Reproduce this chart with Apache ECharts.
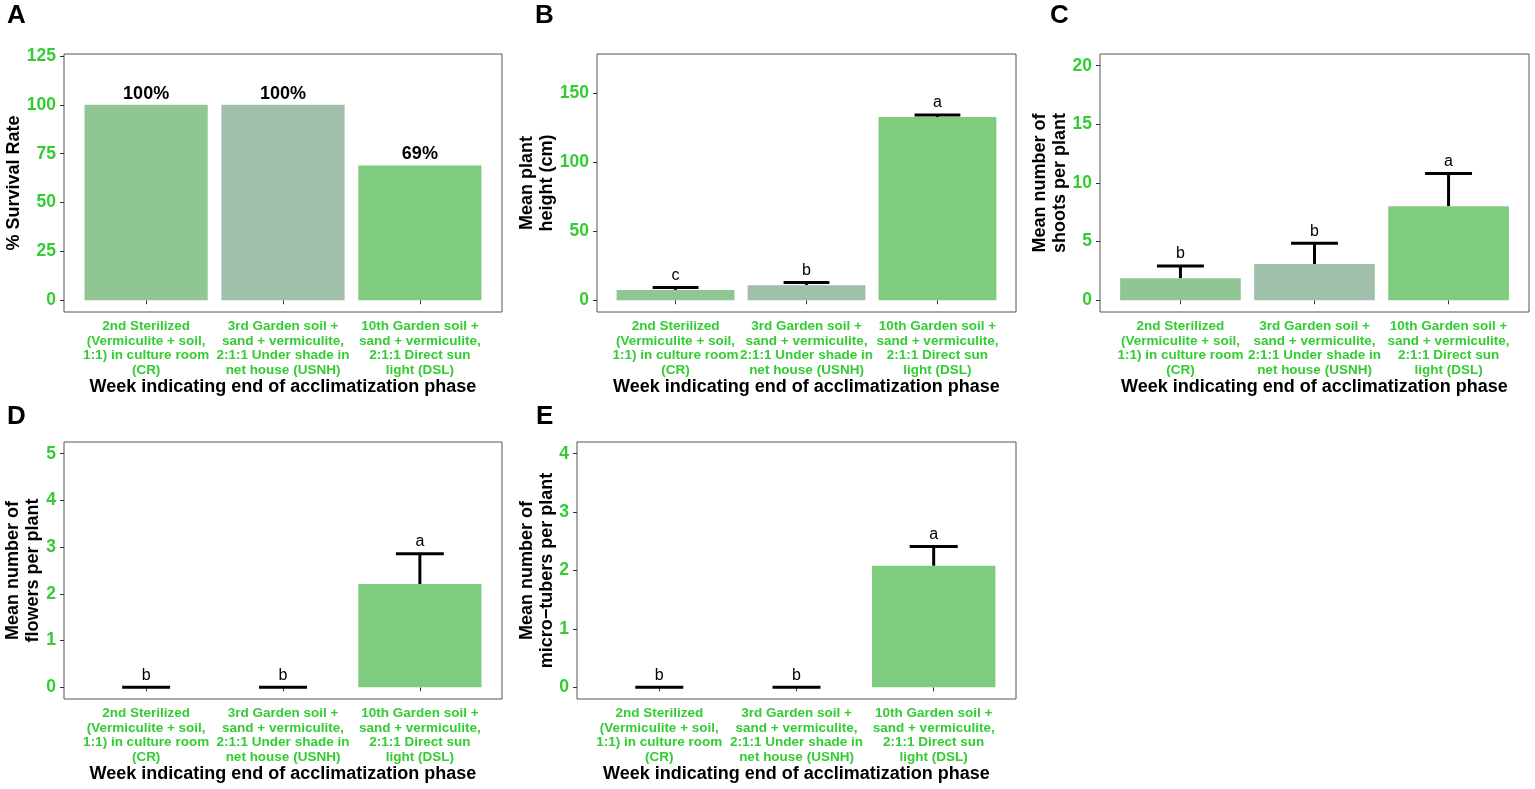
<!DOCTYPE html>
<html>
<head>
<meta charset="utf-8">
<script src="https://cdn.jsdelivr.net/npm/echarts@6/dist/echarts.min.js"></script>
<style>
  html, body { margin: 0; padding: 0; background: #fff; }
  #chart { width: 1535px; height: 789px; }
</style>
</head>
<body>
<div id="chart"></div>
<script>
// categories (x axis, one per bar)
var categories = [
  '2nd Sterilized\n(Vermiculite + soil,\n1:1) in culture room\n(CR)',
  '3rd Garden soil +\nsand + vermiculite,\n2:1:1 Under shade in\nnet house (USNH)',
  '10th Garden soil +\nsand + vermiculite,\n2:1:1 Direct sun\nlight (DSL)'
];
var xPositions = [1, 2, 3];

// A: survival
var survivalRate = [100, 100, 69];
var survivalLabels = ['100%', '100%', '69%'];
var survivalTicks = [0, 25, 50, 75, 100, 125];

// B: plant height
var heightMean = [7.5, 10.9, 132.9];
var heightSE = [1.7, 1.9, 1.4];
var heightLetters = ['c', 'b', 'a'];
var heightTicks = [0, 50, 100, 150];

// C: shoots
var shootsMean = [1.87, 3.09, 8.02];
var shootsSE = [1.05, 1.78, 2.8];
var shootsLetters = ['b', 'b', 'a'];
var shootsTicks = [0, 5, 10, 15, 20];

// D: flowers
var flowersMean = [0, 0, 2.21];
var flowersSE = [0, 0, 0.65];
var flowersLetters = ['b', 'b', 'a'];
var flowersTicks = [0, 1, 2, 3, 4, 5];

// E: micro-tubers
var tubersMean = [0, 0, 2.08];
var tubersSE = [0, 0, 0.33];
var tubersLetters = ['b', 'b', 'a'];
var tubersTicks = [0, 1, 2, 3, 4];

var barColors = ['#8fc694', '#a0bfab', '#80cc7e'];
var green = '#33cc33';
var font = '"Liberation Sans", Arial, sans-serif';
var xTitle = 'Week indicating end of acclimatization phase';

var panels = [
  {letter: 'A', left: 64, top: 54, width: 438, height: 258, min: -6, max: 126, ticks: survivalTicks,
   mean: survivalRate, labels: survivalLabels, yName: '% Survival Rate', yNameX: 14},
  {letter: 'B', left: 597, top: 54, width: 419, height: 258, min: -8.5, max: 178.5, ticks: heightTicks,
   mean: heightMean, se: heightSE, letters: heightLetters, yName: 'Mean plant\nheight (cm)', yNameX: 537},
  {letter: 'C', left: 1100, top: 54, width: 429, height: 258, min: -1, max: 21, ticks: shootsTicks,
   mean: shootsMean, se: shootsSE, letters: shootsLetters, yName: 'Mean number of\nshoots per plant', yNameX: 1050},
  {letter: 'D', left: 64, top: 442, width: 438, height: 257, min: -0.25, max: 5.25, ticks: flowersTicks,
   mean: flowersMean, se: flowersSE, letters: flowersLetters, yName: 'Mean number of\nflowers per plant', yNameX: 23},
  {letter: 'E', left: 577, top: 442, width: 439, height: 257, min: -0.2, max: 4.2, ticks: tubersTicks,
   mean: tubersMean, se: tubersSE, letters: tubersLetters, yName: 'Mean number of\nmicro\u2212tubers per plant', yNameX: 537}
];

var grids = [], xAxes = [], yAxes = [], series = [], graphics = [];

panels.forEach(function (p, i) {
  grids.push({left: p.left, top: p.top, width: p.width, height: p.height,
    show: true, borderColor: '#555', borderWidth: 1, backgroundColor: 'transparent'});

  xAxes.push({
    type: 'value', gridIndex: i, min: 0.4, max: 3.6,
    axisLine: {show: false},
    splitLine: {show: false},
    axisTick: {show: true, length: 4, lineStyle: {color: '#333', width: 1}, customValues: xPositions},
    axisLabel: {
      customValues: xPositions, margin: 7,
      color: green, fontWeight: 'bold', fontSize: 13.5, lineHeight: 14.7, fontFamily: font,
      formatter: function (v) { return categories[Math.round(v) - 1] || ''; }
    }
  });

  yAxes.push({
    type: 'value', gridIndex: i, min: p.min, max: p.max,
    axisLine: {show: false},
    splitLine: {show: false},
    axisTick: {show: true, length: 4, lineStyle: {color: '#333', width: 1}, customValues: p.ticks},
    axisLabel: {customValues: p.ticks, margin: 8, color: green, fontWeight: 'bold', fontSize: 17.5, fontFamily: font}
  });

  var barData = p.mean.map(function (v, k) {
    return {value: [xPositions[k], v], itemStyle: {color: barColors[k]}};
  });
  var bar = {
    type: 'bar', xAxisIndex: i, yAxisIndex: i, data: barData,
    barWidth: 0.9 * p.width / 3.2, silent: true
  };
  if (p.labels) {
    bar.label = {
      show: true, position: 'top', distance: 2,
      color: '#000', fontWeight: 'bold', fontSize: 18, fontFamily: font,
      formatter: function (prm) { return p.labels[prm.dataIndex]; }
    };
  }
  series.push(bar);

  if (p.se) {
    var capHalf = 0.175;
    series.push({
      type: 'custom', xAxisIndex: i, yAxisIndex: i, silent: true,
      data: p.mean.map(function (v, k) { return [xPositions[k], v, p.se[k]]; }),
      encode: {x: 0, y: 1},
      renderItem: function (params, api) {
        var x = api.value(0), m = api.value(1), s = api.value(2);
        var base = api.coord([x, m]);
        var top = api.coord([x, m + s]);
        var l = api.coord([x - capHalf, m + s]);
        var r = api.coord([x + capHalf, m + s]);
        var st = {stroke: '#000', lineWidth: 3};
        return {
          type: 'group',
          children: [
            {type: 'line', shape: {x1: base[0], y1: base[1], x2: top[0], y2: top[1]}, style: st},
            {type: 'line', shape: {x1: l[0], y1: l[1], x2: r[0], y2: r[1]}, style: st},
            {type: 'text', x: top[0], y: top[1] - 4,
             style: {text: p.letters[params.dataIndex], fill: '#000', fontSize: 16, fontFamily: font,
                     align: 'center', verticalAlign: 'bottom'}}
          ]
        };
      }
    });
  }

  var cy = p.top + p.height / 2;
  graphics.push({
    type: 'text', x: p.yNameX, y: cy, rotation: Math.PI / 2,
    style: {text: p.yName, fill: '#000', fontSize: 18, fontWeight: 'bold', fontFamily: font,
            align: 'center', verticalAlign: 'middle', lineHeight: 19.5}
  });
  graphics.push({
    type: 'text', x: p.left + p.width / 2, y: p.top + p.height + 75,
    style: {text: xTitle, fill: '#000', fontSize: 18, fontWeight: 'bold', fontFamily: font,
            align: 'center', verticalAlign: 'middle'}
  });
});

var letterPos = [[7, 15.5], [535, 15.5], [1050, 15.5], [7, 417], [536, 417]];
panels.forEach(function (p, i) {
  graphics.push({
    type: 'text', x: letterPos[i][0], y: letterPos[i][1],
    style: {text: p.letter, fill: '#000', fontSize: 26, fontWeight: 'bold', fontFamily: font,
            align: 'left', verticalAlign: 'middle'}
  });
});

var chart = echarts.init(document.getElementById('chart'));
chart.setOption({
  animation: false,
  backgroundColor: '#fff',
  grid: grids,
  xAxis: xAxes,
  yAxis: yAxes,
  series: series,
  graphic: graphics
});
</script>
</body>
</html>
